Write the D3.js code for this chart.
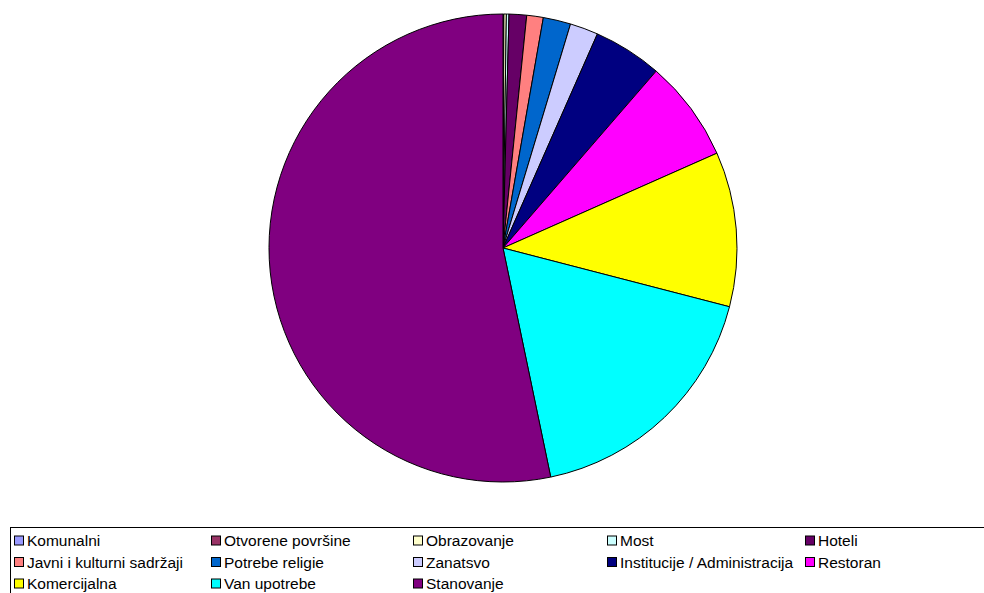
<!DOCTYPE html>
<html><head><meta charset="utf-8">
<script src="https://cdn.jsdelivr.net/npm/d3@7"></script>
<style>html,body{margin:0;padding:0;background:#fff;overflow:hidden}</style>
</head><body>
<svg id="c" width="984" height="593"></svg>
<script>
const categories = ["Komunalni","Otvorene površine","Obrazovanje","Most","Hoteli","Javni i kulturni sadržaji","Potrebe religie","Zanatsvo","Institucije / Administracija","Restoran","Komercijalna","Van upotrebe","Stanovanje"];
const values = [0.03,0.03,0.17,0.18,1.21,1.14,1.90,1.95,4.75,7.00,10.68,17.69,53.27];
const colors = ["#9999FF","#993366","#FFFFCC","#CCFFFF","#660066","#FF8080","#0066CC","#CCCCFF","#000080","#FF00FF","#FFFF00","#00FFFF","#800080"];

const svg = d3.select("#c");
const cx = 503, cy = 248, r = 234;
const data = categories.map((c,i)=>({name:c,value:values[i],color:colors[i]}));
const pie = d3.pie().sort(null).value(d=>d.value);
const arc = d3.arc().innerRadius(0).outerRadius(r);
const g = svg.append("g").attr("transform",`translate(${cx},${cy})`);
g.selectAll("path").data(pie(data)).join("path")
  .attr("d",arc).attr("fill",d=>d.data.color)
  .attr("stroke","#000").attr("stroke-width",1).attr("stroke-linejoin","round");

// legend
svg.append("rect").attr("x",10.5).attr("y",527.5).attr("width",990).attr("height",80)
  .attr("fill","#fff").attr("stroke","#000").attr("stroke-width",1);
const colX = [14,211,413,607,805];
const rowY = [540.5,562,583.5];
const lg = svg.append("g").selectAll("g").data(data).join("g")
  .attr("transform",(d,i)=>`translate(${colX[i%5]},${rowY[Math.floor(i/5)]})`);
lg.append("rect").attr("x",0.5).attr("y",-4.5).attr("width",9).attr("height",9)
  .attr("fill",d=>d.color).attr("stroke","#000").attr("stroke-width",1);
lg.append("text").attr("x",13).attr("y",0).attr("dy","0.36em")
  .attr("font-family","Liberation Sans, Arial, sans-serif").attr("font-size",15.5)
  .attr("fill","#000").text(d=>d.name);
</script>
</body></html>
